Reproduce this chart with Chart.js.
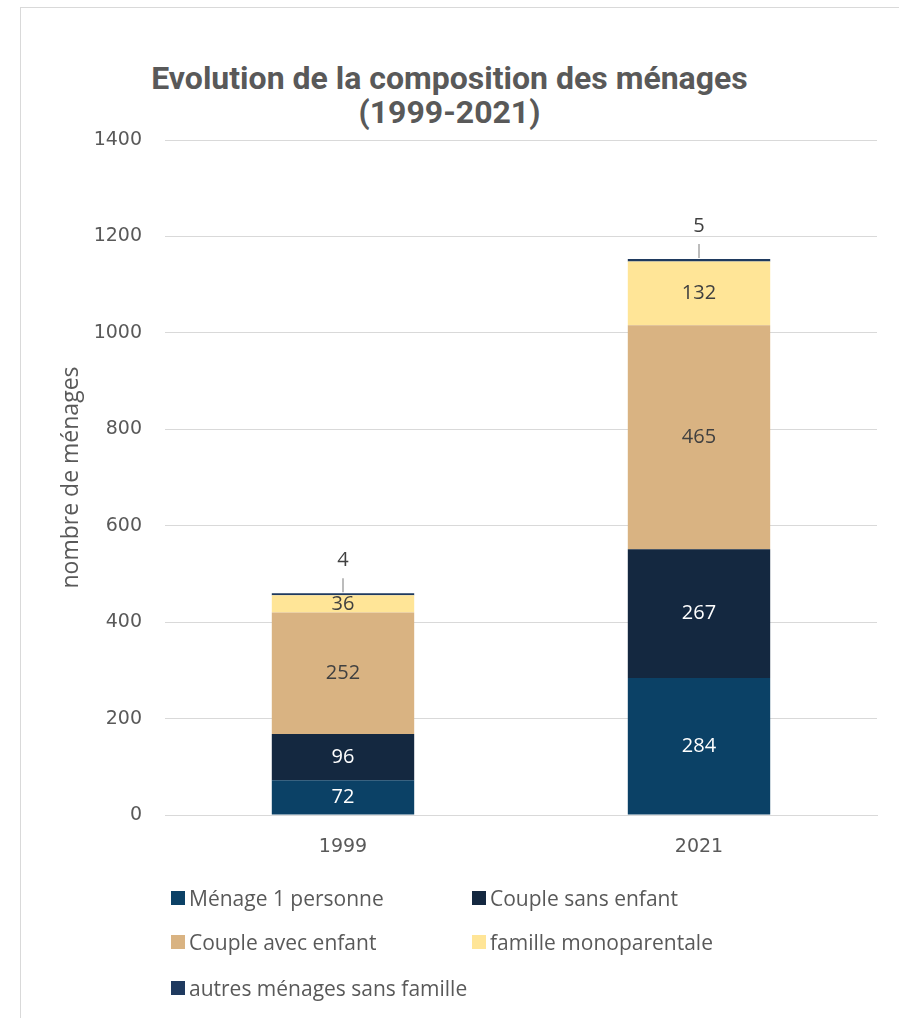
<!DOCTYPE html>
<html>
<head>
<meta charset="utf-8">
<script src="https://cdn.jsdelivr.net/npm/chart.js@4.4.1/dist/chart.umd.min.js"></script>
<style>
  html, body { margin: 0; padding: 0; background: #fff; }
  #wrap { position: relative; width: 899px; height: 1018px; overflow: hidden; }
  #frame { position: absolute; left: 20px; top: 7px; width: 900px; height: 1100px; border: 1px solid #d9d9d9; box-sizing: border-box; }
  #title { position: absolute; left: 0; width: 899px; top: 61px; text-align: center; font-family: Roboto, "Liberation Sans", sans-serif; font-weight: bold; font-size: 32px; line-height: 34px; color: #595959; }
  #c { position: absolute; left: 0; top: 0; }
  #legend { position: absolute; left: 171px; top: 884px; font-family: "Open Sans", Lato, sans-serif; font-size: 21px; color: #595959; }
  .li { position: absolute; white-space: nowrap; height: 28px; line-height: 28px; }
  .sw { display: inline-block; width: 14px; height: 14px; vertical-align: middle; margin-right: 4px; position: relative; top: -2px; }
</style>
</head>
<body>
<div id="wrap">
  <div id="frame"></div>
  <div id="title">Evolution de la composition des ménages<br>(1999-2021)</div>
  <canvas id="c" width="899" height="1018"></canvas>
  <div id="legend"></div>
</div>
<script>
const categories = ["1999", "2021"];
const seriesNames = ["Ménage 1 personne", "Couple sans enfant", "Couple avec enfant", "famille monoparentale", "autres ménages sans famille"];
const menage1 = [72, 284];
const coupleSans = [96, 267];
const coupleAvec = [252, 465];
const monoparentale = [36, 132];
const autres = [4, 5];
const colors = ["#0B4166", "#142840", "#D9B382", "#FFE597", "#1F3A5F"];
const labelColors = ["#ffffff", "#ffffff", "#404040", "#404040", "#404040"];
const yTicks = [0, 200, 400, 600, 800, 1000, 1200, 1400];

const seriesValues = [menage1, coupleSans, coupleAvec, monoparentale, autres];

const labelPlugin = {
  id: 'segLabels',
  afterDatasetsDraw(chart) {
    const ctx = chart.ctx;
    ctx.save();
    ctx.font = '20px "Open Sans", Lato, sans-serif';
    ctx.textAlign = 'center';
    ctx.textBaseline = 'middle';
    chart.data.datasets.forEach((ds, di) => {
      const meta = chart.getDatasetMeta(di);
      meta.data.forEach((bar, i) => {
        const v = ds.data[i];
        const top = Math.min(bar.y, bar.base);
        const h = Math.abs(bar.base - bar.y);
        if (h >= 14) {
          ctx.fillStyle = labelColors[di];
          ctx.fillText(String(v), bar.x, top + h / 2);
        } else {
          ctx.strokeStyle = '#a6a6a6';
          ctx.lineWidth = 1.5;
          ctx.beginPath();
          ctx.moveTo(bar.x, top - 1);
          ctx.lineTo(bar.x, top - 15);
          ctx.stroke();
          ctx.fillStyle = '#404040';
          ctx.fillText(String(v), bar.x, top - 33);
        }
      });
    });
    ctx.restore();
  }
};

const chart = new Chart(document.getElementById('c'), {
  type: 'bar',
  data: {
    labels: categories,
    datasets: seriesValues.map((vals, i) => ({
      label: seriesNames[i],
      data: vals,
      backgroundColor: colors[i],
      borderWidth: 0,
      categoryPercentage: 1.0,
      barPercentage: 0.4
    }))
  },
  options: {
    responsive: false,
    animation: false,
    devicePixelRatio: 1,
    layout: { padding: { left: 20, right: 22, top: 140, bottom: 153 } },
    plugins: {
      legend: { display: false },
      title: { display: false },
      tooltip: { enabled: false }
    },
    scales: {
      x: {
        stacked: true,
        grid: { display: false, drawTicks: false },
        border: { display: true, color: '#d9d9d9', width: 1 },
        ticks: { color: '#595959', font: { family: '"DejaVu Sans", Verdana, sans-serif', size: 19 }, padding: 21 },
        afterFit(scale) { scale.height = 50; }
      },
      y: {
        stacked: true,
        min: 0,
        max: 1400,
        afterBuildTicks(scale) { scale.ticks = yTicks.map(v => ({ value: v })); },
        grid: { color: '#d9d9d9', lineWidth: 1, drawTicks: false },
        border: { display: false },
        ticks: {
          color: '#595959',
          font: { family: '"DejaVu Sans", Verdana, sans-serif', size: 19 },
          padding: 23,
          callback: (v) => String(v)
        },
        title: {
          display: true,
          text: 'nombre de ménages',
          color: '#595959',
          font: { family: '"Open Sans", Lato, sans-serif', size: 23 },
          padding: { top: 38, bottom: 0 }
        },
        afterFit(scale) { scale.width = 145; }
      }
    }
  },
  plugins: [labelPlugin]
});

// Legend built from chart datasets
const leg = document.getElementById('legend');
const positions = [[0, 0], [301, 0], [0, 44], [301, 44], [0, 90]];
chart.data.datasets.forEach((ds, i) => {
  const d = document.createElement('div');
  d.className = 'li';
  d.style.left = positions[i][0] + 'px';
  d.style.top = positions[i][1] + 'px';
  const sw = document.createElement('span');
  sw.className = 'sw';
  sw.style.background = ds.backgroundColor;
  d.appendChild(sw);
  d.appendChild(document.createTextNode(ds.label));
  leg.appendChild(d);
});
</script>
</body>
</html>
